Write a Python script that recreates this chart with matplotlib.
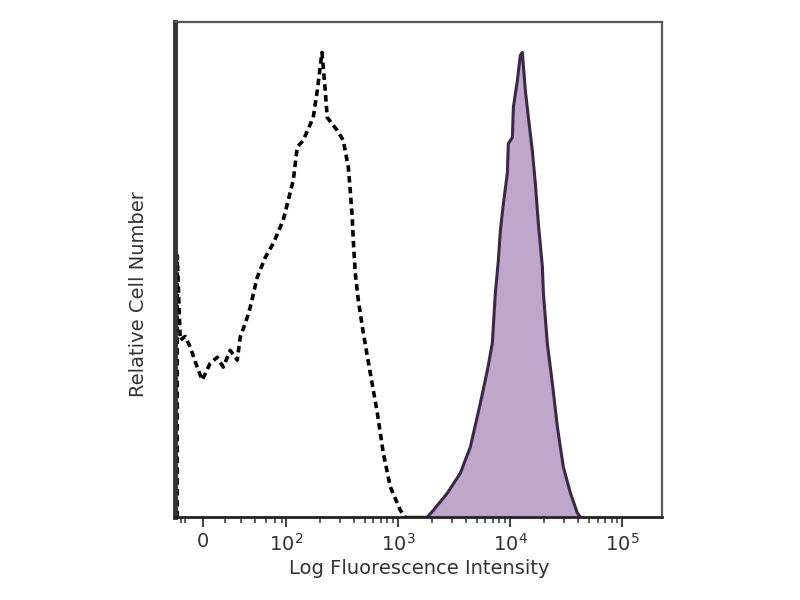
import numpy as np
import matplotlib
matplotlib.use('Agg')
import matplotlib.pyplot as plt

# x in decade units of the display scale (0 label sits at 1.26), y in % of mode
control_x = [1.027, 1.027, 1.054, 1.098, 1.143, 1.205, 1.25, 1.321, 1.384, 1.438,
             1.5, 1.563, 1.589, 1.652, 1.679, 1.741, 1.813, 1.884, 1.973, 2.018,
             2.063, 2.098, 2.152, 2.241, 2.277, 2.319, 2.348, 2.366, 2.455, 2.509,
             2.554, 2.571, 2.589, 2.598, 2.616, 2.643, 2.688, 2.75, 2.813, 2.866,
             2.929, 3.018, 3.063]
control_y = [0, 56.3, 38.1, 38.9, 36.6, 32.3, 29.5, 33.1, 34.4, 32.3,
             35.9, 33.8, 38.7, 43.0, 45.2, 51.6, 55.9, 58.9, 63.9, 68.2,
             72.5, 79.6, 81.1, 86.0, 91.8, 100, 91.8, 86.0, 83.2, 81.1,
             75.3, 70.3, 64.5, 59.6, 52.5, 46.7, 39.6, 31.0, 22.4, 13.8,
             6.5, 1.5, 0]

stained_x = [3.259, 3.313, 3.438, 3.554, 3.643, 3.732, 3.795, 3.839, 3.866, 3.893,
             3.911, 3.938, 3.973, 3.982, 4.018, 4.027, 4.063, 4.089, 4.107, 4.134,
             4.161, 4.196, 4.223, 4.25, 4.286, 4.295, 4.33, 4.375, 4.42, 4.473,
             4.536, 4.598, 4.625]
stained_y = [0, 1.5, 5.2, 9.5, 15.1, 24.5, 31.6, 37.4, 48.2, 55.3,
             61.7, 67.5, 74.0, 80.4, 81.7, 88.2, 94.0, 99.4, 100, 91.8,
             86.0, 78.9, 71.8, 63.2, 53.8, 48.2, 37.4, 28.8, 19.4, 10.8,
             5.2, 0.9, 0]

tick_pos = [1.259, 2, 3, 4, 5]
tick_labels = ['0', '$10^2$', '$10^3$', '$10^4$', '$10^5$']

fig = plt.figure(figsize=(8, 6), dpi=100)
ax = fig.add_axes([0.219, 0.138, 0.609, 0.825])

ax.fill_between(stained_x, stained_y, 0, color='#bfa6cb', lw=0)
ax.plot(stained_x, stained_y, color='#3a2846', lw=2.2)
ax.plot(control_x, control_y, color='black', lw=2.6, ls=(0, (1.8, 1.2)))
ax.plot([3.063, 3.259], [0, 0], color='black', lw=2.4)

ax.set_xlim(1.009, 5.357)
ax.set_ylim(0, 106.5)

ax.set_xticks(tick_pos)
ax.set_xticklabels(tick_labels, fontsize=14, color='#333333')
minor = [1.06, 1.1, 1.45, 1.6, 1.72, 1.82, 1.9, 1.96]
for dec in (2, 3, 4):
    minor += [dec + np.log10(k) for k in range(2, 10)]
ax.set_xticks(minor, minor=True)
ax.tick_params(axis='x', which='major', length=7, width=1.3, direction='out', color='#333333', pad=4)
ax.tick_params(axis='x', which='minor', length=4, width=1.1, direction='out', color='#333333')
ax.set_yticks([])

for side in ('top', 'right'):
    ax.spines[side].set_color('#555555')
    ax.spines[side].set_linewidth(1.6)
ax.spines['left'].set_color('#333333')
ax.spines['left'].set_linewidth(3.5)
ax.spines['bottom'].set_color('#222222')
ax.spines['bottom'].set_linewidth(2)

ax.set_xlabel('Log Fluorescence Intensity', fontsize=14, color='#333333', labelpad=3)
ax.set_ylabel('Relative Cell Number', fontsize=14, color='#333333')
ax.yaxis.set_label_coords(-0.055, 0.45)

fig.savefig('out.png', dpi=100)
